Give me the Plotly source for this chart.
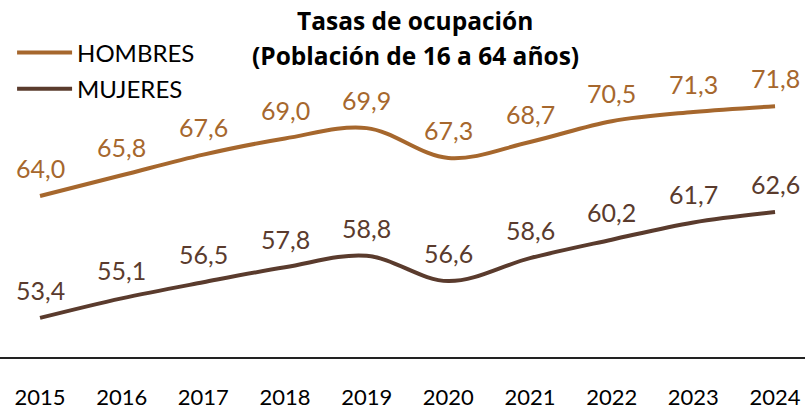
import plotly.graph_objects as go

years = ["2015", "2016", "2017", "2018", "2019", "2020", "2021", "2022", "2023", "2024"]
hombres = [64.0, 65.8, 67.6, 69.0, 69.9, 67.3, 68.7, 70.5, 71.3, 71.8]
mujeres = [53.4, 55.1, 56.5, 57.8, 58.8, 56.6, 58.6, 60.2, 61.7, 62.6]
title_lines = ["Tasas de ocupación", "(Población de 16 a 64 años)"]

c_h = "#A6672D"
c_m = "#5A3B2D"
font_family = "Lato"
title_family = "Open Sans"

fig = go.Figure()
fig.add_trace(go.Scatter(x=years, y=hombres, mode="lines", name="HOMBRES", legendgroup="h",
                         line=dict(color=c_h, width=4, shape="spline", smoothing=1.0)))
fig.add_trace(go.Scatter(x=years, y=mujeres, mode="lines", name="MUJERES", legendgroup="m",
                         line=dict(color=c_m, width=4, shape="spline", smoothing=1.0)))

def fmt(v):
    return f"{v:.1f}".replace(".", ",")

for series, col in ((hombres, c_h), (mujeres, c_m)):
    for i, v in enumerate(series):
        fig.add_annotation(x=i, y=v, xref="x", yref="y", text=fmt(v), showarrow=False,
                           yanchor="middle", yshift=28,
                           font=dict(size=25, color=col, family=font_family))

for ypos, line in zip((1 - 20 / 357, 1 - 55 / 357), title_lines):
    fig.add_annotation(x=0.516, y=ypos, xref="paper", yref="paper", yanchor="middle",
                       xanchor="center", showarrow=False, text=f"<b>{line}</b>",
                       font=dict(size=24.5, color="black", family=title_family))

fig.update_layout(
    width=805, height=411,
    margin=dict(l=0, r=0, t=0, b=54, autoexpand=False),
    plot_bgcolor="white", paper_bgcolor="white",
    showlegend=True,
    legend=dict(x=0.015, y=0.915, xanchor="left", yanchor="top", itemwidth=55,
                traceorder="grouped",
                font=dict(size=24, color="black", family=font_family),
                bgcolor="rgba(0,0,0,0)", tracegroupgap=2),
    xaxis=dict(type="category", range=[-0.49, 9.367], showgrid=False, zeroline=False,
               showline=True, linecolor="#222222", linewidth=1.5, ticks="",
               ticklabelstandoff=20, automargin=False,
               tickfont=dict(size=22, color="black", family=font_family)),
    yaxis=dict(range=[50.0, 81.04], visible=False, showgrid=False, zeroline=False,
               automargin=False),
)

fig.write_html("out.html", config={"displayModeBar": False},
               post_script="document.body.style.margin='0';")
